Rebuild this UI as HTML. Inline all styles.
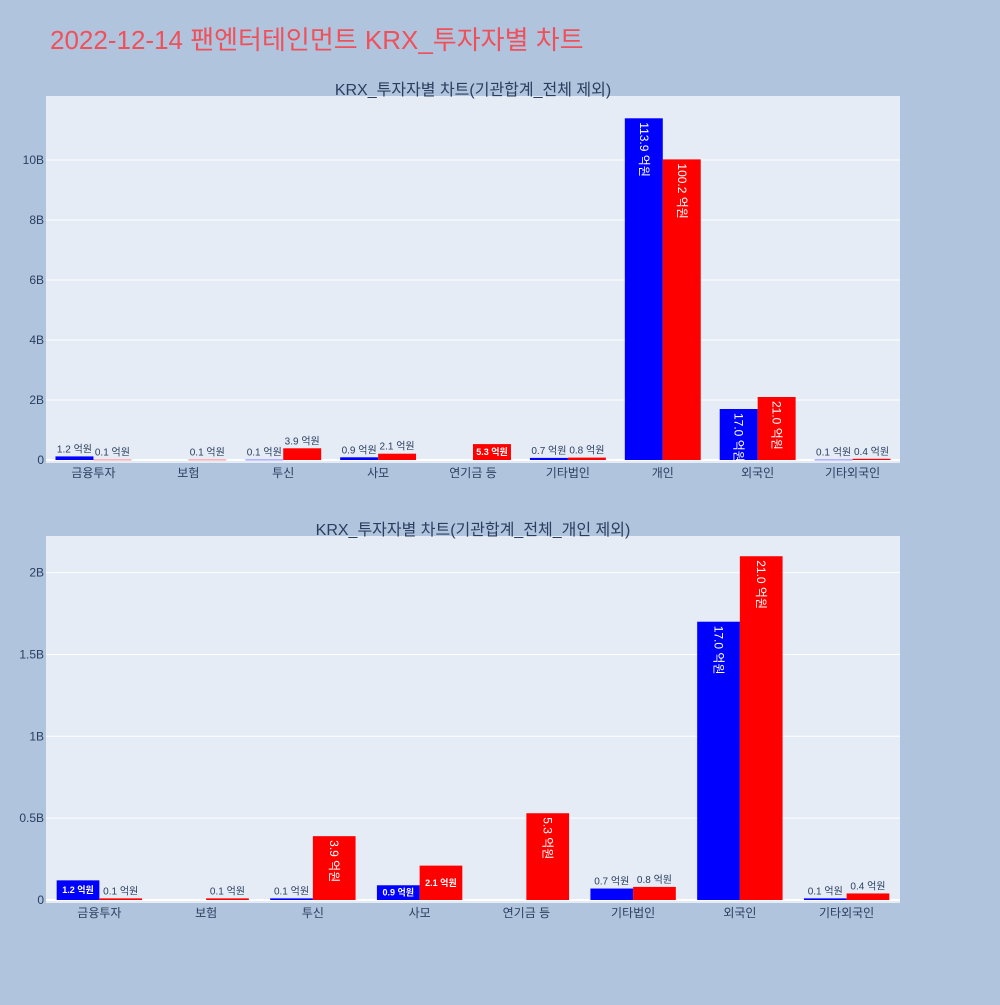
<!DOCTYPE html>
<html><head><meta charset="utf-8"><style>
body{margin:0;background:#b0c4de;font-family:"Liberation Sans","Noto Sans CJK KR",sans-serif}
svg text{font-family:"Liberation Sans","Noto Sans CJK KR",sans-serif}
</style></head><body>
<svg id="s" width="1000" height="1000" xmlns="http://www.w3.org/2000/svg">
<rect width="1000" height="1000" fill="#b0c4de"/>
<text x="50" y="49" font-size="26" fill="#f0505a">2022-12-14 팬엔터테인먼트 KRX_투자자별 차트</text>
</svg>
<script>
const cats1=["금융투자","보험","투신","사모","연기금 등","기타법인","개인","외국인","기타외국인"];
const blue1=[1.2,null,0.1,0.9,null,0.7,113.9,17.0,0.1];
const red1=[0.1,0.1,3.9,2.1,5.3,0.8,100.2,21.0,0.4];
const ticks1=[0,2,4,6,8,10];
const cats2=["금융투자","보험","투신","사모","연기금 등","기타법인","외국인","기타외국인"];
const blue2=[1.2,null,0.1,0.9,null,0.7,17.0,0.1];
const red2=[0.1,0.1,3.9,2.1,5.3,0.8,21.0,0.4];
const ticks2=[0,0.5,1,1.5,2];
const tickLbl2=["0","0.5B","1B","1.5B","2B"];
const NS="http://www.w3.org/2000/svg",svg=document.getElementById('s');
function el(t,a,txt){const e=document.createElementNS(NS,t);for(const k in a)e.setAttribute(k,a[k]);if(txt!==undefined)e.textContent=txt;svg.appendChild(e);return e;}
function chart(o){
 const {x0,x1,y0,y1,zeroY,pxPerB,cats,blue,red,ticks,tl,title,ty,name}=o;
 const p=el('rect',{x:x0,y:y0,width:x1-x0,height:y1-y0,fill:'#e5ecf6'});
 
 const t=el('text',{x:(x0+x1)/2,y:ty,'font-size':16,fill:'#2a3f5f','text-anchor':'middle'},title);
 
 const yS=v=>zeroY-v*pxPerB;
 ticks.forEach((v,i)=>{
  const g=el('line',{x1:x0,x2:x1,y1:yS(v),y2:yS(v),stroke:'#fff','stroke-width':v===0?2:1});
  
  const l=el('text',{x:x0-2,y:yS(v)+4,'font-size':12,fill:'#2a3f5f','text-anchor':'end'},tl?tl[i]:(v===0?'0':v+'B'));
  
 });
 const cw=(x1-x0)/cats.length,bw=cw*0.4;
 cats.forEach((c,i)=>{
  const cx=x0+cw*(i+0.5);
  const l=el('text',{x:cx,y:y1+14,'font-size':12,fill:'#2a3f5f','text-anchor':'middle'},c);
  
  [[blue[i],'#0000ff',cx-bw],[red[i],'#ff0000',cx]].forEach(([v,col,bx])=>{
   if(v===null)return;
   const h=v/10*pxPerB,top=zeroY-h;
   const r=el('rect',{x:bx,y:top,width:bw,height:Math.max(h,0.5),fill:col});
   
   const txt=v.toFixed(1)+' 억원';let lb;
   if(h>40){lb=el('text',{x:0,y:0,'font-size':12,fill:'#fff','transform':`translate(${bx+bw/2-4},${top+4}) rotate(90)`},txt);}
   else if(h>14){lb=el('text',{x:bx+bw/2,y:top+h/2+3,'font-size':9,'font-weight':'bold',fill:'#fff','text-anchor':'middle'},txt);}
   else{lb=el('text',{x:bx+bw/2,y:top-4,'font-size':10,fill:'#2a3f5f','text-anchor':'middle'},txt);}
   
  });
 });
}
chart({x0:46,x1:900,y0:96,y1:463,zeroY:460,pxPerB:30,cats:cats1,blue:blue1,red:red1,ticks:ticks1,title:'KRX_투자자별 차트(기관합계_전체 제외)',ty:95,name:'top-chart'});
chart({x0:46,x1:900,y0:536,y1:903,zeroY:900,pxPerB:163.7,cats:cats2,blue:blue2,red:red2,ticks:ticks2,tl:tickLbl2,title:'KRX_투자자별 차트(기관합계_전체_개인 제외)',ty:535,name:'bottom-chart'});
</script>
</body></html>
